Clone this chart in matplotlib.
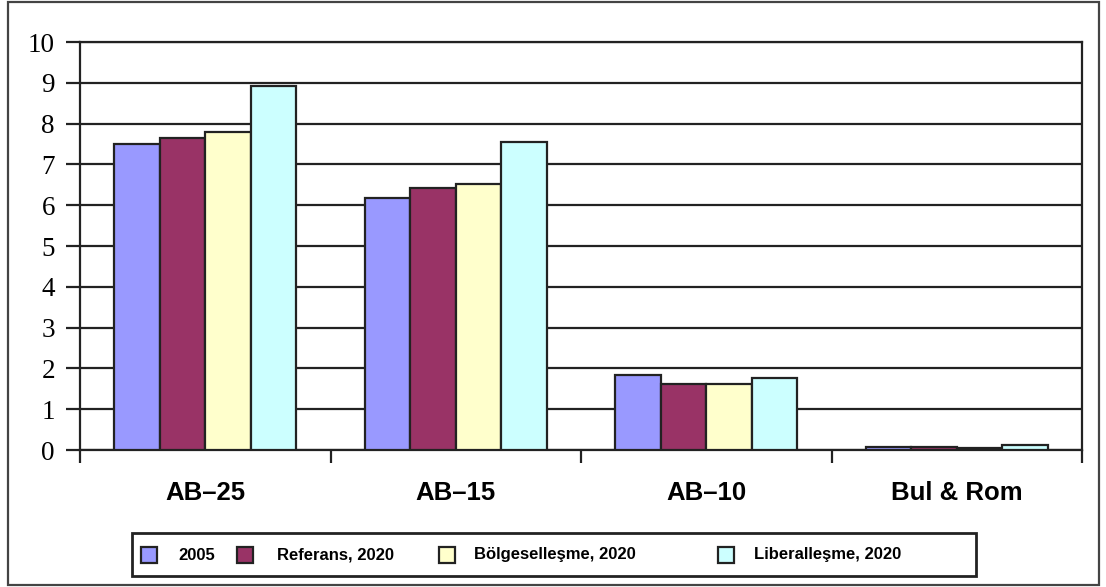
import matplotlib
matplotlib.use("Agg")
import matplotlib.pyplot as plt
from matplotlib.patches import Rectangle
import numpy as np

categories = ["AB\u201325", "AB\u201315", "AB\u201310", "Bul & Rom"]
series_names = ["2005", "Referans, 2020", "Bölgeselleşme, 2020", "Liberalleşme, 2020"]
values_2005 = [7.50, 6.18, 1.84, 0.07]
values_ref = [7.65, 6.42, 1.62, 0.07]
values_bolge = [7.80, 6.52, 1.62, 0.05]
values_lib = [8.93, 7.55, 1.77, 0.12]
yticks = list(range(0, 11))

series_values = [values_2005, values_ref, values_bolge, values_lib]
colors = ["#9999FF", "#993366", "#FFFFCC", "#CCFFFF"]

W, H = 1106, 587
fig = plt.figure(figsize=(W / 100, H / 100), dpi=100)

def fx(x):
    return x / W

def fy(y):
    return 1 - y / H

ax = fig.add_axes([fx(80), fy(450), fx(1082) - fx(80), fy(42) - fy(450)])

x = np.arange(len(categories))
bw = 0.1816
offsets = (np.arange(4) - 1.5) * bw
for i, (vals, col) in enumerate(zip(series_values, colors)):
    ax.bar(x + offsets[i], vals, width=bw, color=col, edgecolor="#222222",
           linewidth=1.6, zorder=3)

ax.set_xlim(-0.5, len(categories) - 0.5)
ax.set_ylim(0, 10)
ax.set_yticks(yticks)
ax.set_yticklabels([str(t) for t in yticks], fontsize=19.5,
                   family=["Liberation Serif", "DejaVu Serif"])
ax.yaxis.grid(True, color="#222222", linewidth=1.6, zorder=0)
ax.set_axisbelow(True)
ax.tick_params(axis="y", direction="out", length=10, width=1.6, pad=8,
               color="#222222")

ax.set_xticks(np.arange(len(categories) + 1) - 0.5)
ax.set_xticklabels([])
ax.tick_params(axis="x", which="major", direction="out", length=9, width=1.6,
               color="#222222")
ax.set_xticks(x, minor=True)
ax.set_xticklabels(categories, minor=True, fontsize=18.5, fontweight="bold",
                   family=["Liberation Sans", "DejaVu Sans"])
ax.tick_params(axis="x", which="minor", length=0, pad=22)

for s in ax.spines.values():
    s.set_linewidth(1.6)
    s.set_color("#222222")

# outer frame
fig.add_artist(Rectangle((fx(8), fy(585)), fx(1099) - fx(8), fy(2) - fy(585),
                         transform=fig.transFigure, fill=False,
                         edgecolor="#444444", linewidth=1.6))

# legend box
fig.add_artist(Rectangle((fx(132), fy(576)), fx(976) - fx(132), fy(533) - fy(576),
                         transform=fig.transFigure, fill=False,
                         edgecolor="#222222", linewidth=2.0))
marker_x = [141, 237, 439, 718]
text_x = [178, 277, 474, 754]
ly = 555
ms = 16
for mx, tx, name, col in zip(marker_x, text_x, series_names, colors):
    fig.add_artist(Rectangle((fx(mx), fy(ly + ms / 2)), fx(ms), fy(0) - fy(ms),
                             transform=fig.transFigure, facecolor=col,
                             edgecolor="#222222", linewidth=1.6))
    fig.text(fx(tx), fy(ly), name, fontsize=12, fontweight="bold",
             va="center", ha="left", family=["Liberation Sans", "DejaVu Sans"])

fig.savefig("out.png", dpi=100)
